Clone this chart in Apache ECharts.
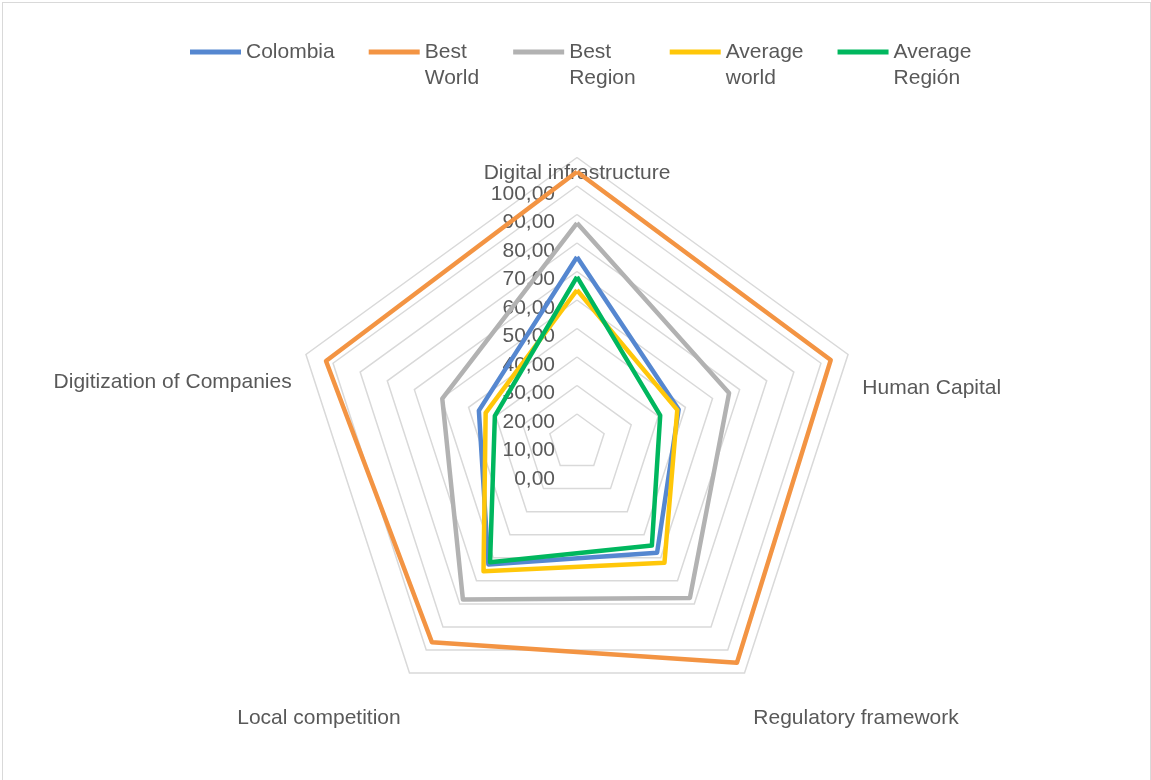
<!DOCTYPE html>
<html>
<head>
<meta charset="utf-8">
<title>Colombia digital ecosystem radar</title>
<script src="https://cdn.jsdelivr.net/npm/echarts@6/dist/echarts.min.js"></script>
<style>
  html, body { margin: 0; padding: 0; background: #fff; }
  #chart { position: absolute; left: 0; top: 0; width: 1151px; height: 780px; }
  #frame { position: absolute; left: 2px; top: 2px; width: 1149px; height: 790px; border: 1.5px solid #d9d9d9; box-sizing: border-box; pointer-events: none; }
</style>
</head>
<body>
<div id="chart"></div>
<div id="frame"></div>
<script>
// indicators in echarts order (top, then counterclockwise)
const categories = ['Digital infrastructure', 'Digitization of Companies', 'Local competition', 'Regulatory framework', 'Human Capital'];
const seriesNames = ['Colombia', 'Best World', 'Best Region', 'Average world', 'Average Región'];

const colombia = [65.1, 36.2, 52.9, 47.8, 37.5];
const bestWorld = [95.0, 92.6, 86.6, 95.5, 93.6];
const bestRegion = [77.0, 49.7, 68.1, 67.4, 56.1];
const averageWorld = [53.5, 33.7, 55.8, 52.2, 37.0];
const averageRegion = [58.1, 30.3, 51.9, 44.7, 30.7];

const values = [colombia, bestWorld, bestRegion, averageWorld, averageRegion];
const colors = ['#5587d0', '#f39443', '#b2b2b2', '#ffc709', '#00b75e'];

const textColor = '#595959';
const font = '"Liberation Sans", Arial, sans-serif';
// push each axis name down a bit (Excel places them lower than the spoke end)
const namePad = [0, 22, 22, 22, 28];

const rich = {};
namePad.forEach((p, i) => {
  rich['n' + i] = { padding: [p, 0, 0, 0], fontSize: 21, color: textColor, fontFamily: font };
});

const chart = echarts.init(document.getElementById('chart'));

const option = {
  animation: false,
  color: colors,
  textStyle: { fontFamily: font },
  legend: {
    left: 190,
    top: 13,
    padding: 0,
    itemGap: 34,
    itemWidth: 51,
    itemHeight: 5,
    icon: 'rect',
    data: seriesNames,
    textStyle: { color: textColor, fontSize: 21, lineHeight: 26, fontFamily: font },
    // blank first line so the first word sits level with the line marker
    formatter: function (name) {
      const parts = name.split(' ');
      return '\n' + parts[0] + '\n' + (parts[1] || '');
    }
  },
  radar: {
    center: [577, 442.5],
    radius: 285,
    startAngle: 90,
    splitNumber: 10,
    shape: 'polygon',
    nameGap: 15,
    axisName: {
      color: textColor,
      fontSize: 21,
      fontFamily: font,
      verticalAlign: 'top',
      formatter: function (name) {
        return '{n' + categories.indexOf(name) + '|' + name + '}';
      },
      rich: rich
    },
    indicator: categories.map(function (name, i) {
      const ind = { name: name, min: 0, max: 100 };
      if (i === 0) {
        ind.nameGap = -8;
        ind.axisLabel = {
          show: true,
          margin: 22,
          color: textColor,
          fontSize: 21,
          fontFamily: font,
          verticalAlign: 'top',
          padding: [26, 0, 0, 0],
          formatter: function (v) { return v.toFixed(2).replace('.', ','); }
        };
      }
      return ind;
    }),
    axisLine: { show: false },
    axisTick: { show: false },
    axisLabel: { show: false },
    splitLine: { lineStyle: { color: '#d9d9d9', width: 1.5 } },
    splitArea: { show: false }
  },
  series: seriesNames.map(function (name, i) {
    return {
      type: 'radar',
      name: name,
      symbol: 'none',
      lineStyle: { width: 4.5, color: colors[i], join: 'round' },
      data: [{ name: name, value: values[i] }]
    };
  })
};

chart.setOption(option);
</script>
</body>
</html>
